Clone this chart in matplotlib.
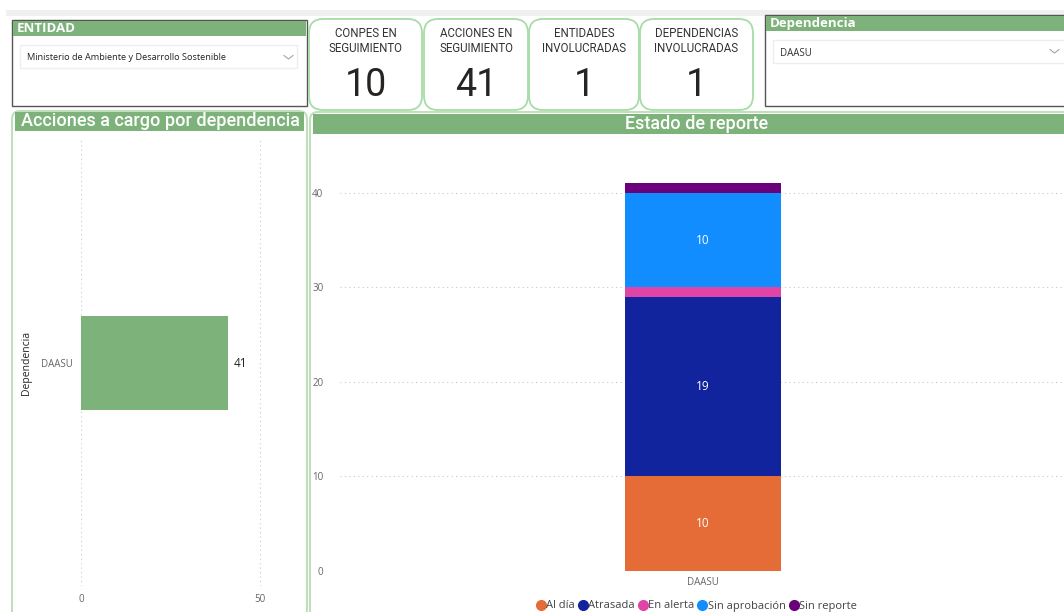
import matplotlib
matplotlib.use('Agg')
import matplotlib.pyplot as plt
from matplotlib.patches import Rectangle, FancyBboxPatch
from matplotlib.lines import Line2D

# datos del tablero
entidad = 'Ministerio de Ambiente y Desarrollo Sostenible'
dependencia_sel = 'DAASU'
kpi_titles = ['CONPES EN\nSEGUIMIENTO', 'ACCIONES EN\nSEGUIMIENTO',
              'ENTIDADES\nINVOLUCRADAS', 'DEPENDENCIAS\nINVOLUCRADAS']
kpi_values = [10, 41, 1, 1]

dependencias = ['DAASU']
acciones = [41]

estados = ['Al día', 'Atrasada', 'En alerta', 'Sin aprobación', 'Sin reporte']
estado_vals = [10, 19, 1, 10, 1]
estado_colors = ['#E66C37', '#12239E', '#E044A7', '#118DFF', '#6B007B']

W, H = 1064, 612
GREEN = '#7DB37A'
CARD_EDGE = '#A6DDA6'
SEGOE = ['Open Sans', 'DejaVu Sans']
DIN = ['Roboto', 'DejaVu Sans']


def px(x, y, w, h):
    # caja en pixeles (origen arriba-izquierda) -> coords de figura
    return [x / W, 1 - (y + h) / H, w / W, h / H]


fig = plt.figure(figsize=(W / 100, H / 100), dpi=100)
fig.patch.set_facecolor('white')

bg = fig.add_axes([0, 0, 1, 1])
bg.set_xlim(0, W)
bg.set_ylim(H, 0)
bg.axis('off')

# franja gris superior
bg.add_patch(Rectangle((6, 10), 1058, 6, facecolor='#F0F0F0', edgecolor='none'))

# ---- slicer ENTIDAD
bg.add_patch(Rectangle((12, 20), 295, 86, facecolor='white', edgecolor='#555555', lw=1))
bg.add_patch(Rectangle((13, 20.5), 293, 15.5, facecolor=GREEN, edgecolor='none'))
bg.text(17, 28.5, 'ENTIDAD', color='white', fontsize=9.5, fontweight='bold',
        family=SEGOE, va='center', ha='left')
bg.add_patch(Rectangle((20, 45), 277, 23, facecolor='white', edgecolor='#EEEEEE', lw=1))
bg.text(27, 57, entidad, fontsize=6.6, family=SEGOE, va='center', ha='left', color='#222222')
bg.plot([284, 288.5, 293], [55.5, 59, 55.5], color='#999999', lw=0.7)

# ---- slicer Dependencia
bg.add_patch(Rectangle((765, 15), 305, 91, facecolor='white', edgecolor='#555555', lw=1))
bg.add_patch(Rectangle((766, 15.5), 300, 15.5, facecolor=GREEN, edgecolor='none'))
bg.text(770, 23.5, 'Dependencia', color='white', fontsize=9.5, fontweight='bold',
        family=SEGOE, va='center', ha='left')
bg.add_patch(Rectangle((773, 40), 300, 23, facecolor='white', edgecolor='#EEEEEE', lw=1))
bg.text(780, 53, dependencia_sel, fontsize=7, family=SEGOE, va='center', ha='left', color='#333333')
bg.plot([1050, 1054.5, 1059], [49.5, 53, 49.5], color='#999999', lw=0.7)

# ---- tarjetas KPI
cards = [(309, 113), (424, 104), (529, 110), (640, 113)]
for (cx, cw), title, val in zip(cards, kpi_titles, kpi_values):
    bg.add_patch(FancyBboxPatch((cx, 19), cw, 91, boxstyle='round,pad=0,rounding_size=14',
                                facecolor='white', edgecolor=CARD_EDGE, lw=1.3))
    bg.text(cx + cw / 2, 41, title, fontsize=8.3, family=DIN, ha='center', va='center',
            color='#333333', linespacing=1.15)
    bg.text(cx + cw / 2, 85, str(val), fontsize=27, family=DIN, ha='center', va='center',
            color='#252423')

# ---- panel izquierdo
bg.add_patch(FancyBboxPatch((12, 111), 295, 520, boxstyle='round,pad=0,rounding_size=8',
                            facecolor='white', edgecolor='#BFE0BB', lw=1.5))
bg.add_patch(Rectangle((15, 112), 289, 19, facecolor=GREEN, edgecolor='none'))
bg.text(160, 121.5, 'Acciones a cargo por dependencia', color='white', fontsize=13,
        fontweight='medium', family=DIN, ha='center', va='center')

# ---- panel derecho
bg.add_patch(FancyBboxPatch((310, 112), 770, 520, boxstyle='round,pad=0,rounding_size=8',
                            facecolor='white', edgecolor='#BFE0BB', lw=1.5))
bg.add_patch(Rectangle((313, 114), 751, 20, facecolor=GREEN, edgecolor='none'))
bg.text(697, 124, 'Estado de reporte', color='white', fontsize=13,
        fontweight='medium', family=DIN, ha='center', va='center')

# ---- grafico de barras horizontales
ax1 = fig.add_axes(px(81, 140, 210, 446))
ax1.barh(dependencias, acciones, height=0.21, color=GREEN)
ax1.set_xlim(0, 58.6)
ax1.set_ylim(-0.5, 0.5)
ax1.set_xticks([0, 50])
for y, v in zip(dependencias, acciones):
    ax1.text(v + 1.6, y, str(v), va='center', ha='left', fontsize=8.5,
             family=SEGOE, color='#252423')
ax1.grid(axis='x', linestyle=(0, (1, 3)), color='#C8C8C8', lw=0.8)
ax1.set_axisbelow(True)
for s in ax1.spines.values():
    s.set_visible(False)
ax1.tick_params(length=0, labelsize=7, labelcolor='#666666', pad=6)
for lab in ax1.get_xticklabels() + ax1.get_yticklabels():
    lab.set_family(SEGOE)
ax1.set_ylabel('Dependencia', fontsize=7.5, family=SEGOE, color='#252423', labelpad=6)

# ---- grafico de columnas apiladas
ax2 = fig.add_axes(px(340, 140, 724, 431))
bottom = 0
for name, v, c in zip(estados, estado_vals, estado_colors):
    ax2.bar(['DAASU'], [v], bottom=bottom, width=0.2155, color=c, label=name)
    if v >= 5:
        ax2.text(0, bottom + v / 2, str(v), ha='center', va='center', color='white',
                 fontsize=8.5, family=SEGOE)
    bottom += v
ax2.set_xlim(-0.5014, 0.4986)
ax2.set_ylim(0, 45.6)
ax2.set_yticks([0, 10, 20, 30, 40])
ax2.grid(axis='y', linestyle=(0, (1, 3)), color='#C8C8C8', lw=0.8)
ax2.set_axisbelow(True)
for s in ax2.spines.values():
    s.set_visible(False)
ax2.tick_params(length=0, labelsize=7, labelcolor='#666666')
ax2.tick_params(axis='y', pad=12)
ax2.tick_params(axis='x', pad=4)
for lab in ax2.get_xticklabels() + ax2.get_yticklabels():
    lab.set_family(SEGOE)

handles = [Line2D([], [], marker='o', linestyle='none', markersize=7,
                  markerfacecolor=c, markeredgecolor=c) for c in estado_colors]
fig.legend(handles, estados, loc='center', bbox_to_anchor=(697 / W, 1 - 606 / H),
           ncol=5, frameon=False, handlelength=0.7, handletextpad=0.15, columnspacing=0.35,
           prop={'family': SEGOE, 'size': 8}, labelcolor='#444444')

fig.savefig('out.png', dpi=100, facecolor='white')
